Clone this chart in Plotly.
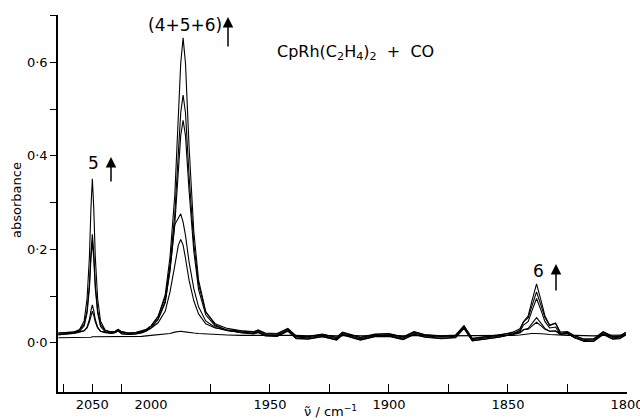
import plotly.graph_objects as go

# Wavenumber grid (cm-1); the spectrometer scale is compressed above 2000 cm-1
wavenumber = [2079, 2072, 2066, 2061, 2057, 2054.5, 2052.5, 2051.2, 2050, 2048.8, 2047.5, 2045.5, 2043, 2039, 2034,
              2030.5, 2028, 2025, 2019, 2013, 2008, 2004, 2000,
              1997, 1994, 1992, 1990, 1988.5, 1987.5, 1986.5, 1985.5, 1984, 1982, 1980, 1977, 1973, 1968, 1962, 1957,
              1955, 1952, 1947, 1942.5, 1939, 1934, 1928, 1922, 1919.5, 1916, 1912, 1906, 1900, 1894, 1889.5, 1885,
              1878, 1872, 1868.5, 1865, 1860, 1854, 1848, 1845, 1843.5, 1841.5, 1840, 1838, 1836, 1834.5, 1832.5,
              1830, 1828, 1825, 1822, 1818, 1814, 1810, 1806, 1803, 1800.5]

absorbance_t0 = [0.011, 0.011, 0.012, 0.012, 0.012, 0.012, 0.012, 0.012, 0.013, 0.013, 0.013, 0.013, 0.013, 0.013, 0.013,
                 0.013, 0.014, 0.014, 0.014, 0.014, 0.014, 0.015, 0.016,
                 0.017, 0.018, 0.020, 0.023, 0.025, 0.025, 0.024, 0.023, 0.022, 0.021, 0.020, 0.019, 0.018, 0.017, 0.016,
                 0.016, 0.016, 0.016, 0.016, 0.017, 0.016, 0.015, 0.016, 0.015, 0.016, 0.016, 0.015, 0.016, 0.016, 0.015,
                 0.016, 0.016, 0.015, 0.015, 0.016, 0.015, 0.015,
                 0.016, 0.016, 0.017, 0.018, 0.019, 0.020, 0.020, 0.020, 0.019, 0.018, 0.017,
                 0.016, 0.016, 0.016, 0.015, 0.015, 0.016, 0.016, 0.016, 0.017]

absorbance_t1 = [0.021, 0.022, 0.022, 0.024, 0.026, 0.032, 0.045, 0.059, 0.068, 0.059, 0.045, 0.032, 0.025, 0.023, 0.022,
                 0.025, 0.029, 0.024, 0.021, 0.022, 0.024, 0.027, 0.031,
                 0.043, 0.068, 0.109, 0.165, 0.209, 0.221, 0.209, 0.181, 0.134, 0.090, 0.062, 0.041, 0.032, 0.028, 0.025,
                 0.023, 0.028, 0.021, 0.020, 0.031, 0.015, 0.014, 0.019, 0.012, 0.023, 0.018, 0.012, 0.019, 0.020, 0.013,
                 0.024, 0.018, 0.015, 0.017, 0.037, 0.010, 0.013,
                 0.016, 0.020, 0.023, 0.028, 0.029, 0.036, 0.044, 0.036, 0.029, 0.025, 0.026,
                 0.020, 0.023, 0.015, 0.008, 0.009, 0.024, 0.014, 0.015, 0.023]

absorbance_t2 = [0.019, 0.020, 0.020, 0.023, 0.026, 0.034, 0.050, 0.069, 0.081, 0.069, 0.050, 0.034, 0.025, 0.022, 0.020,
                 0.023, 0.027, 0.022, 0.020, 0.021, 0.023, 0.027, 0.032,
                 0.050, 0.086, 0.158, 0.253, 0.268, 0.276, 0.258, 0.230, 0.173, 0.116, 0.077, 0.047, 0.033, 0.026, 0.023,
                 0.021, 0.025, 0.018, 0.017, 0.028, 0.012, 0.011, 0.016, 0.009, 0.020, 0.015, 0.009, 0.016, 0.017, 0.010,
                 0.021, 0.015, 0.012, 0.014, 0.034, 0.007, 0.010,
                 0.014, 0.018, 0.021, 0.028, 0.031, 0.041, 0.054, 0.041, 0.031, 0.025, 0.025,
                 0.018, 0.021, 0.012, 0.005, 0.006, 0.021, 0.011, 0.012, 0.020]

absorbance_t3 = [0.018, 0.019, 0.020, 0.025, 0.036, 0.064, 0.117, 0.180, 0.217, 0.180, 0.117, 0.064, 0.035, 0.024, 0.020,
                 0.022, 0.026, 0.020, 0.018, 0.019, 0.021, 0.025, 0.032,
                 0.051, 0.089, 0.154, 0.253, 0.367, 0.443, 0.476, 0.443, 0.326, 0.196, 0.114, 0.060, 0.036, 0.027, 0.022,
                 0.020, 0.023, 0.016, 0.015, 0.026, 0.010, 0.009, 0.014, 0.007, 0.018, 0.013, 0.007, 0.014, 0.015, 0.008,
                 0.019, 0.013, 0.010, 0.012, 0.032, 0.005, 0.008,
                 0.012, 0.018, 0.024, 0.038, 0.046, 0.068, 0.095, 0.068, 0.046, 0.032, 0.034,
                 0.018, 0.020, 0.011, 0.004, 0.004, 0.019, 0.009, 0.010, 0.018]

absorbance_t4 = [0.021, 0.022, 0.023, 0.028, 0.040, 0.070, 0.126, 0.192, 0.232, 0.192, 0.126, 0.070, 0.039, 0.027, 0.024,
                 0.025, 0.029, 0.023, 0.021, 0.022, 0.025, 0.029, 0.036,
                 0.057, 0.097, 0.167, 0.275, 0.404, 0.492, 0.530, 0.492, 0.358, 0.212, 0.125, 0.066, 0.041, 0.031, 0.026,
                 0.024, 0.027, 0.020, 0.019, 0.030, 0.014, 0.013, 0.018, 0.011, 0.022, 0.017, 0.011, 0.018, 0.019, 0.012,
                 0.023, 0.017, 0.014, 0.016, 0.036, 0.009, 0.012,
                 0.016, 0.023, 0.030, 0.045, 0.054, 0.078, 0.109, 0.078, 0.054, 0.038, 0.042,
                 0.023, 0.024, 0.015, 0.008, 0.008, 0.023, 0.013, 0.014, 0.022]

absorbance_t5 = [0.017, 0.019, 0.021, 0.028, 0.047, 0.095, 0.184, 0.288, 0.351, 0.288, 0.184, 0.095, 0.046, 0.027, 0.021,
                 0.022, 0.026, 0.019, 0.018, 0.019, 0.022, 0.027, 0.036,
                 0.056, 0.103, 0.184, 0.315, 0.481, 0.598, 0.652, 0.598, 0.420, 0.238, 0.134, 0.067, 0.038, 0.027, 0.022,
                 0.019, 0.022, 0.015, 0.014, 0.025, 0.009, 0.008, 0.013, 0.006, 0.017, 0.012, 0.006, 0.013, 0.014, 0.007,
                 0.018, 0.012, 0.009, 0.011, 0.031, 0.004, 0.007,
                 0.012, 0.019, 0.027, 0.045, 0.058, 0.088, 0.126, 0.088, 0.058, 0.037, 0.042,
                 0.019, 0.020, 0.011, 0.003, 0.003, 0.018, 0.008, 0.009, 0.017]

spectra = [absorbance_t0, absorbance_t1, absorbance_t2, absorbance_t3, absorbance_t4, absorbance_t5]

y_tickvals = [0.0, 0.2, 0.4, 0.6]
y_ticktext = ["0·0", "0·2", "0·4", "0·6"]
y_minor = [0.1, 0.3, 0.5, 0.7]
x_hi_tickvals = [2050]
x_hi_minor = [2075, 2025]
x_lo_tickvals = [2000, 1950, 1900, 1850, 1800]
x_lo_minor = [1975, 1925, 1875, 1825]

FONT = "DejaVu Sans"
split = 0.1634

fig = go.Figure()
for vals in spectra:
    assert len(vals) == len(wavenumber)
    hx = [w for w in wavenumber if w >= 2000]
    hy = [v for w, v in zip(wavenumber, vals) if w >= 2000]
    lx = [w for w in wavenumber if w <= 2000]
    ly = [v for w, v in zip(wavenumber, vals) if w <= 2000]
    fig.add_trace(go.Scatter(x=hx, y=hy, xaxis="x", yaxis="y", mode="lines",
                             line=dict(color="black", width=1.1), showlegend=False, hoverinfo="skip"))
    fig.add_trace(go.Scatter(x=lx, y=ly, xaxis="x2", yaxis="y", mode="lines",
                             line=dict(color="black", width=1.1), showlegend=False, hoverinfo="skip"))

axis_common = dict(showline=True, linecolor="black", linewidth=1.5, showgrid=False, zeroline=False,
                   ticks="inside", ticklen=8, tickcolor="black", tickwidth=1.3, automargin=False,
                   ticklabeloverflow="allow",
                   tickfont=dict(family=FONT, size=13, color="black"), fixedrange=True)

fig.update_layout(
    width=640, height=420,
    margin=dict(l=58, r=13, t=15, b=28, autoexpand=False),
    paper_bgcolor="white", plot_bgcolor="white",
    font=dict(family=FONT, color="black"),
    xaxis=dict(domain=[0, split], range=[2079.3, 2000], tickmode="array", tickvals=x_hi_tickvals,
               minor=dict(tickmode="array", tickvals=x_hi_minor, ticks="inside", ticklen=8,
                          tickcolor="black", tickwidth=1.3, showgrid=False),
               anchor="y", **axis_common),
    xaxis2=dict(domain=[split, 1], range=[2000, 1800], tickmode="array", tickvals=x_lo_tickvals,
                minor=dict(tickmode="array", tickvals=x_lo_minor, ticks="inside", ticklen=8,
                           tickcolor="black", tickwidth=1.3, showgrid=False),
                anchor="y", **axis_common),
    yaxis=dict(range=[-0.105, 0.701], tickmode="array", tickvals=y_tickvals, ticktext=y_ticktext,
               minor=dict(tickmode="array", tickvals=y_minor, ticks="outside", ticklen=6,
                          tickcolor="black", tickwidth=1.3, showgrid=False),
               showline=True, linecolor="black", linewidth=1.5, showgrid=False, zeroline=False,
               ticks="outside", ticklen=6, tickcolor="black", tickwidth=1.3, anchor="x", automargin=False,
               tickfont=dict(family=FONT, size=13, color="black"), fixedrange=True),
)

def px_x(px):
    return (px - 58) / 569.0

def px_y(py):
    return (392 - py) / 377.0

texts = [
    ("(4+5+6)", 185, 25, 17),
    ("CpRh(C<sub>2</sub>H<sub>4</sub>)<sub>2</sub>  +  CO", 355, 52, 16),
    ("5", 93, 163, 17),
    ("6", 538, 271, 17),
]
for t, x, y, s in texts:
    fig.add_annotation(text=t, x=px_x(x), y=px_y(y), xref="paper", yref="paper",
                       showarrow=False, xanchor="center", yanchor="middle",
                       font=dict(family=FONT, size=s, color="black"))

arrows = [(228, 17, 31), (111, 157, 26), (556, 264, 28)]
for x, y, length in arrows:
    fig.add_annotation(text="", x=px_x(x), y=px_y(y), xref="paper", yref="paper",
                       ax=0, ay=length, showarrow=True, arrowhead=2, arrowsize=1.4,
                       arrowwidth=1.5, arrowcolor="black")

fig.add_annotation(text="absorbance", x=px_x(16), y=px_y(200), xref="paper", yref="paper",
                   textangle=-90, showarrow=False, xanchor="center", yanchor="middle",
                   font=dict(family=FONT, size=13, color="black"))
fig.add_annotation(text="ν̃ / cm<sup>−1</sup>", x=px_x(330), y=px_y(411), xref="paper", yref="paper",
                   showarrow=False, xanchor="center", yanchor="middle",
                   font=dict(family=FONT, size=13, color="black"))

fig.write_html("out.html", config={"displayModeBar": False},
               post_script="document.body.style.margin='0';document.body.style.overflow='hidden';")
